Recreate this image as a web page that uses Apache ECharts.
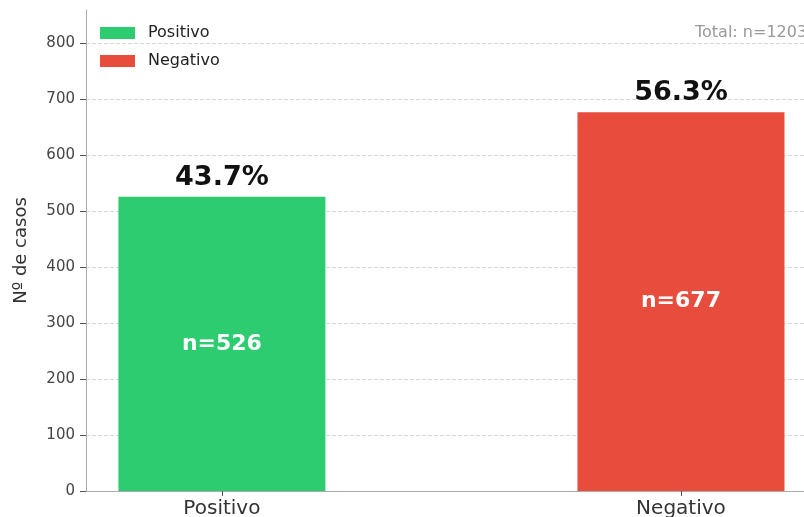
<!DOCTYPE html>
<html>
<head>
<meta charset="utf-8">
<script src="https://cdn.jsdelivr.net/npm/echarts@6/dist/echarts.min.js"></script>
<style>
  html, body { margin: 0; padding: 0; background: #fff; }
  #chart { width: 804px; height: 517px; }
</style>
</head>
<body>
<div id="chart"></div>
<script>
var categories = ['Positivo', 'Negativo'];
var counts = [526, 677];
var pctLabels = ['43.7%', '56.3%'];
var colors = ['#2ecc71', '#e74c3c'];
var yTicks = [0, 100, 200, 300, 400, 500, 600, 700, 800];
var totalText = 'Total: n=1203';

var font = 'DejaVu Sans';
var chart = echarts.init(document.getElementById('chart'));

// una serie por categoria para que salga la leyenda
var series = categories.map(function (name, i) {
  return {
    name: name,
    type: 'bar',
    barWidth: 207,
    barGap: '-100%',
    itemStyle: { color: colors[i] },
    data: [[i, counts[i]]],
    label: {
      show: true,
      position: 'inside',
      formatter: 'n=' + counts[i],
      color: '#fff',
      fontWeight: 'bold',
      fontSize: 22,
      fontFamily: font
    },
    markPoint: {
      symbol: 'circle',
      symbolSize: 1,
      itemStyle: { color: 'transparent' },
      data: [{ coord: [i, counts[i]] }],
      label: {
        show: true,
        position: 'inside',
        formatter: pctLabels[i],
        offset: [0, -19],
        color: '#111',
        fontWeight: 'bold',
        fontSize: 27,
        fontFamily: font
      }
    }
  };
});

var option = {
  animation: false,
  grid: { left: 86, right: 0, top: 10, bottom: 26, containLabel: false, outerBoundsMode: 'none' },
  legend: {
    left: 100, top: 25, orient: 'vertical', padding: 0,
    itemWidth: 35, itemHeight: 12, itemGap: 12,
    icon: 'rect',
    textStyle: { fontFamily: font, fontSize: 16, color: '#222', padding: [0, 0, 0, 8] },
    data: categories
  },
  graphic: [{
    type: 'text', left: 695, top: 25,
    style: { text: totalText, fontFamily: font, fontSize: 16, fill: '#999' }
  }],
  xAxis: {
    type: 'value', min: -0.296, max: 1.268,
    axisLine: { show: true, onZero: false, lineStyle: { color: '#aaa' } },
    axisTick: { show: true, customValues: [0, 1], length: 5, lineStyle: { color: '#555' } },
    axisLabel: {
      customValues: [0, 1],
      formatter: function (v) { return categories[Math.round(v)]; },
      fontFamily: font, fontSize: 20, color: '#333', margin: 8
    },
    splitLine: { show: false }
  },
  yAxis: {
    type: 'value', min: 0, max: 860, interval: 100,
    name: 'Nº de casos', nameLocation: 'middle', nameGap: 56,
    nameTextStyle: { fontFamily: font, fontSize: 18, color: '#333' },
    axisLine: { show: true, onZero: false, lineStyle: { color: '#aaa' } },
    axisTick: { show: true, customValues: yTicks, length: 6, lineStyle: { color: '#555' } },
    axisLabel: {
      customValues: yTicks,
      fontFamily: font, fontSize: 15, color: '#444', margin: 11
    },
    splitLine: { show: true, lineStyle: { type: 'dashed', color: '#d8d8d8' } }
  },
  series: series
};
chart.setOption(option);
</script>
</body>
</html>
